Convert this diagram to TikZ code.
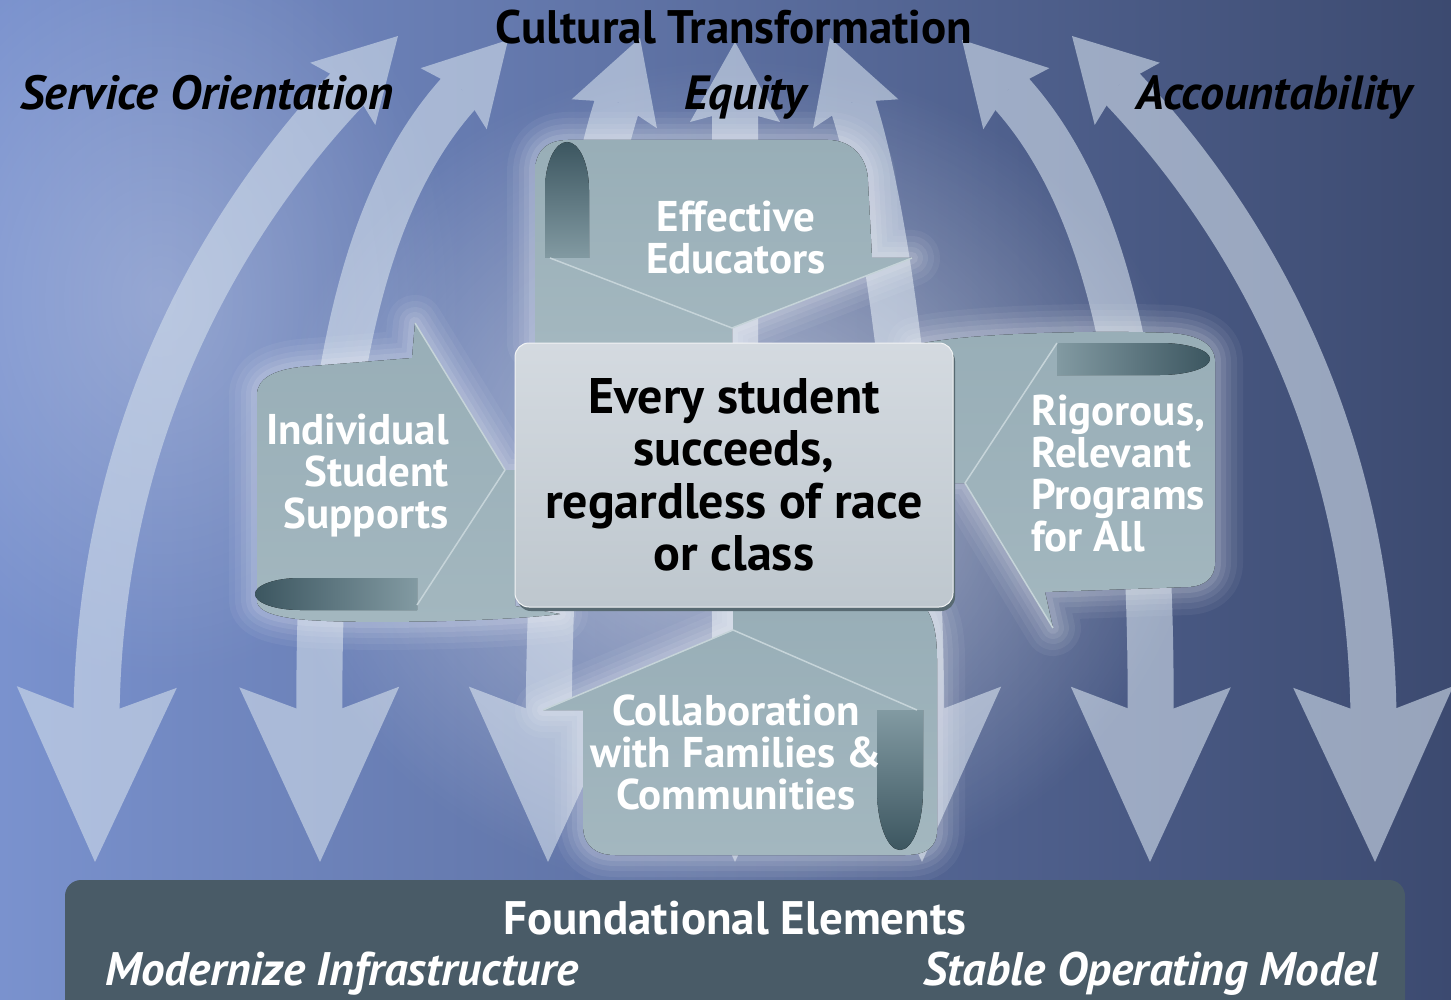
\documentclass[tikz,border=0pt]{standalone}
\usepackage{fontspec}
\setmainfont{PT Sans}
\usetikzlibrary{arrows.meta,fadings,shadows}

\definecolor{bgleft}{RGB}{122,146,206}
\definecolor{bgmid}{RGB}{82,100,152}
\definecolor{bgright}{RGB}{60,74,112}
\definecolor{pillarcol}{RGB}{208,220,234}
\definecolor{scrollcol}{RGB}{163,183,191}
\definecolor{scrolltop}{RGB}{152,174,183}
\definecolor{scrollline}{RGB}{198,212,217}
\definecolor{curldark}{RGB}{60,86,96}
\definecolor{curllight}{RGB}{130,154,162}
\definecolor{boxtop}{RGB}{212,218,224}
\definecolor{boxbottom}{RGB}{190,199,206}
\definecolor{boxshade}{RGB}{88,106,114}
\definecolor{panelcol}{RGB}{73,91,103}

\tikzfading[name=softglow, inner color=transparent!0, outer color=transparent!100]

\tikzset{
  pillar/.style={draw=pillarcol, line width=46pt,
    arrows={Stealth[length=175pt,width=160pt,inset=30pt,line width=0pt]-Stealth[length=80pt,width=90pt,inset=12pt,line width=0pt]}},
  glow/.style={fill=white, path fading=softglow},
  halo/.style={preaction={draw=white, line width=56pt, draw opacity=0.05, line join=round},
    preaction={draw=white, line width=44pt, draw opacity=0.06, line join=round},
    preaction={draw=white, line width=32pt, draw opacity=0.07, line join=round},
    preaction={draw=white, line width=22pt, draw opacity=0.08, line join=round},
    preaction={draw=white, line width=12pt, draw opacity=0.1, line join=round}},
  scrollbody/.style={halo, top color=scrolltop, bottom color=scrollcol},
  foldline/.style={draw=scrollline, line width=1.5pt, line join=round},
  tagtext/.style={text=white, font=\fontsize{43}{42}\selectfont\bfseries, inner sep=0pt},
  keytext/.style={text=black, font=\fontsize{48}{50}\selectfont\bfseries\itshape, inner sep=0pt},
  basetext/.style={text=white, font=\fontsize{47}{50}\selectfont\bfseries\itshape, inner sep=0pt},
  corebox/.style={rounded corners=14pt, top color=boxtop, bottom color=boxbottom,
    draw=white!80!boxbottom, line width=1pt, minimum width=438pt, minimum height=264pt,
    align=center, font=\fontsize{50}{52.5}\selectfont\bfseries,
    drop shadow={shadow xshift=2pt, shadow yshift=-4pt, fill=boxshade, opacity=1}},
}

\begin{document}
\begin{tikzpicture}[x=1pt,y=-1pt]
\useasboundingbox (0,0) rectangle (1451,1000);
\clip (0,0) rectangle (1451,1000);

\fill[left color=bgleft, middle color=bgmid, right color=bgright] (0,0) rectangle (1451,1000);
\fill[glow, fill opacity=0.25] (160,300) ellipse (300 and 380);

\coordinate (b1) at (95,862);   \coordinate (t1) at (398,36);
\coordinate (b2) at (320,862);  \coordinate (t2) at (508,40);
\coordinate (b3) at (548,862);  \coordinate (t3) at (640,38);
\coordinate (b4) at (735,862);  \coordinate (t4) at (735,42);
\coordinate (b5) at (922,862);  \coordinate (t5) at (830,38);
\coordinate (b6) at (1150,862); \coordinate (t6) at (962,40);
\coordinate (b7) at (1375,862); \coordinate (t7) at (1072,36);

\begin{scope}[transparency group, opacity=0.62]
\draw[pillar] (b1) .. controls (100,380) and (270,170) .. (t1);
\draw[pillar] (b2) .. controls (318,400) and (360,200) .. (t2);
\draw[pillar] (b3) .. controls (550,450) and (585,200) .. (t3);
\draw[pillar] (b4) -- (t4);
\draw[pillar] (b5) .. controls (920,450) and (885,200) .. (t5);
\draw[pillar] (b6) .. controls (1152,400) and (1110,200) .. (t6);
\draw[pillar] (b7) .. controls (1370,380) and (1200,170) .. (t7);
\end{scope}

\fill[glow, fill opacity=0.55] (735,480) ellipse (470 and 420);

% top scroll
\fill[scrollbody] (535,343) -- (535,172) .. controls (535,150) and (548,140) .. (568,140) -- (828,140)
  .. controls (852,140) and (868,158) .. (868,182) -- (872,258) -- (912,258) -- (732,328) -- (732,343) -- cycle;
\fill[top color=curldark, bottom color=curllight] (545,258) -- (545,190)
  arc[start angle=180, end angle=360, x radius=22, y radius=48] -- (589,258) -- cycle;
\draw[foldline] (550,258) -- (732,328) -- (912,258);

% left scroll
\fill[scrollbody] (257,600) -- (257,395) .. controls (257,378) and (275,370) .. (300,367) -- (412,358)
  -- (415,323) -- (505,470) -- (515,470) -- (515,606) -- (560,614)
  .. controls (500,622) and (330,625) .. (290,618) .. controls (265,614) and (257,608) .. (257,600) -- cycle;
\fill[left color=curldark, right color=curllight] (417,578) -- (300,578)
  arc[start angle=270, end angle=90, x radius=45, y radius=16] -- (417,610) -- cycle;
\draw[foldline] (415,323) -- (505,470) -- (417,605);

% right scroll
\fill[scrollbody] (915,345) .. controls (960,333) and (1100,330) .. (1170,333)
  .. controls (1200,335) and (1215,345) .. (1215,362) -- (1215,562)
  .. controls (1215,578) and (1205,586) .. (1188,587) -- (1045,592) -- (1053,628) -- (965,483) -- (945,483) -- cycle;
\fill[left color=curllight, right color=curldark] (1057,343) -- (1160,343)
  arc[start angle=-90, end angle=90, x radius=50, y radius=16] -- (1057,375) -- cycle;
\draw[foldline] (1057,343) -- (965,483) -- (1053,628);

% bottom scroll
\fill[scrollbody] (583,825) -- (583,710) -- (543,710) -- (733,630) -- (733,607) -- (925,607)
  .. controls (935,620) and (937,640) .. (937,660) -- (937,830)
  .. controls (937,848) and (925,855) .. (905,855) -- (615,855) .. controls (595,855) and (583,845) .. (583,825) -- cycle;
\fill[top color=curllight, bottom color=curldark] (877,710) -- (877,790)
  arc[start angle=180, end angle=0, x radius=23, y radius=60] -- (923,710) -- cycle;
\draw[foldline] (543,710) -- (733,630) -- (917,710);

\node[corebox] (core) at (734,475) {Every student\\succeeds,\\regardless of race\\or class};

\node[tagtext, align=center] (effective) at (736,238) {Effective\\Educators};
\node[tagtext, align=right, anchor=east] (individual) at (449,476) {Individual\\Student\\Supports};
\node[tagtext, align=left, anchor=west] (rigorous) at (1031,474) {Rigorous,\\Relevant\\Programs\\for All};
\node[tagtext, align=center] (collab) at (736,752) {Collaboration\\with Families \&\\Communities};

\node[keytext, font=\fontsize{47}{50}\selectfont\bfseries, anchor=base] (culture) at (734,44) {Cultural Transformation};
\node[keytext, anchor=base west] (service) at (20,110) {Service Orientation};
\node[keytext, anchor=base] (equity) at (745,110) {Equity};
\node[keytext, anchor=base east] (account) at (1412,110) {Accountability};

\fill[panelcol, rounded corners=16pt] (65,880) rectangle (1405,1030);
\node[basetext, font=\fontsize{47}{50}\selectfont\bfseries, anchor=base] (found) at (735,934) {Foundational Elements};
\node[basetext, anchor=base west] (modern) at (105,985) {Modernize Infrastructure};
\node[basetext, anchor=base east] (stable) at (1378,985) {Stable Operating Model};
\end{tikzpicture}
\end{document}
